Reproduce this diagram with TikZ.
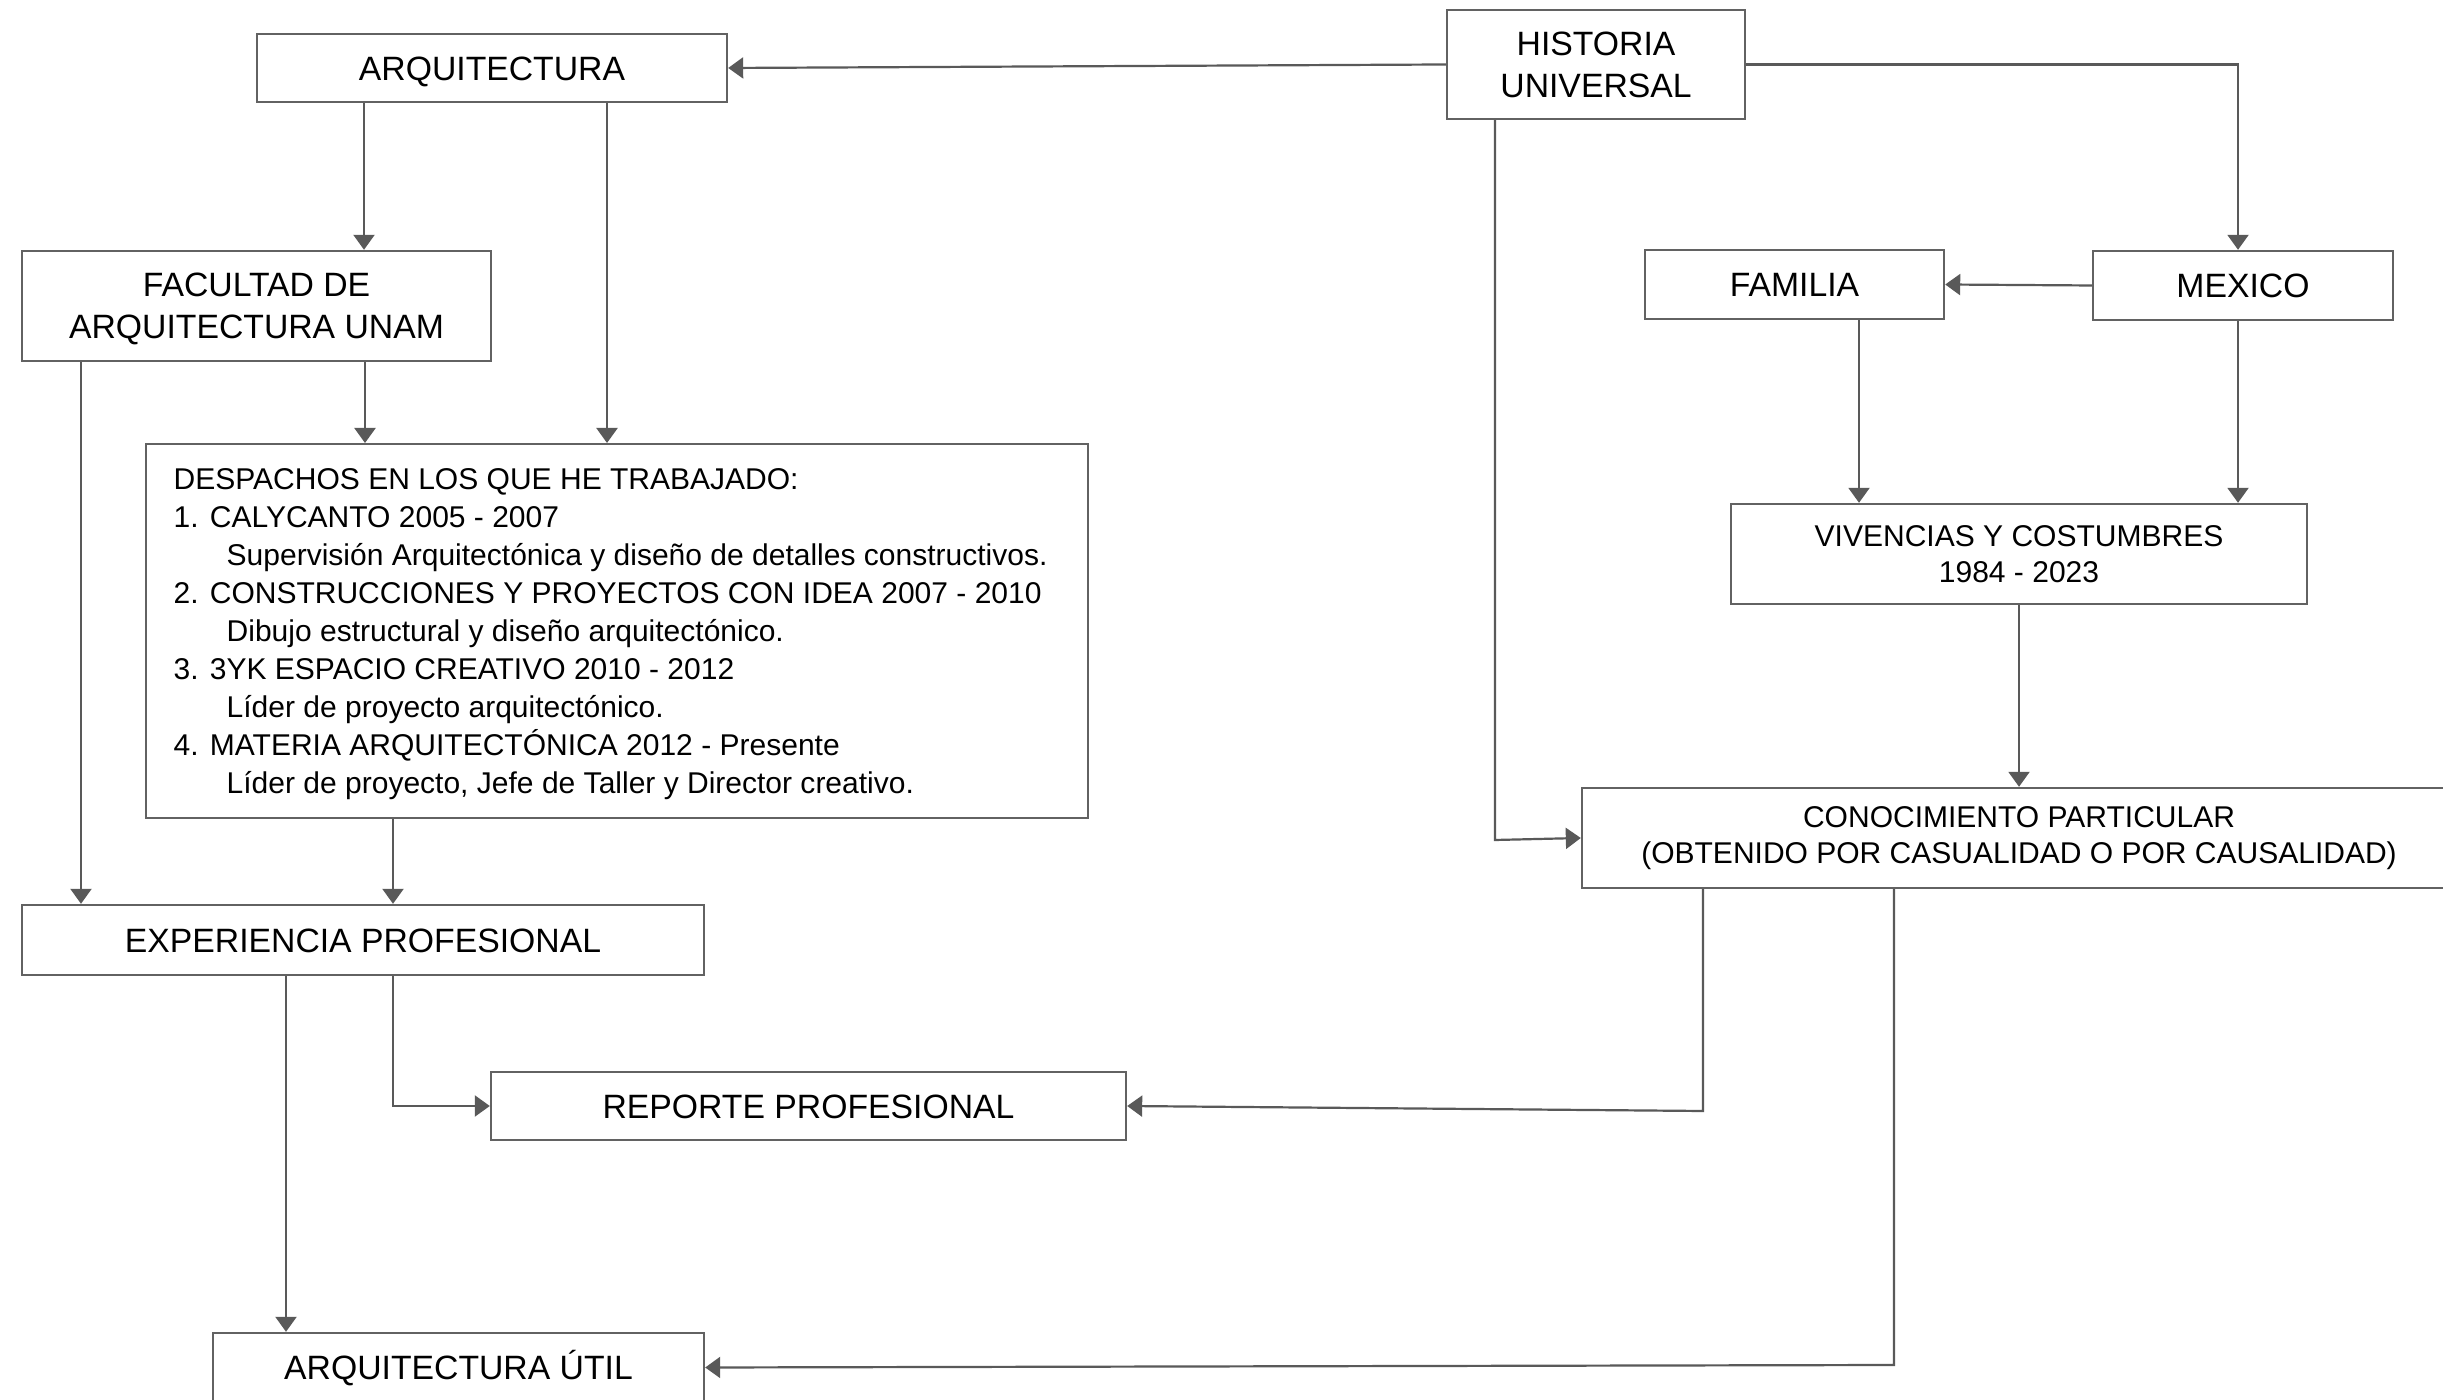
\documentclass[tikz,border=0pt]{standalone}
\usepackage{fontspec}
\setmainfont{Liberation Sans}
\usetikzlibrary{arrows.meta}
\definecolor{linegray}{HTML}{595959}
\definecolor{boxgray}{HTML}{626262}
\begin{document}
\begin{tikzpicture}[x=0.1mm, y=-0.1mm,
  box/.style={draw=boxgray, line width=0.24mm, rectangle, inner sep=0pt, align=center, text=black},
  bigtxt/.style={font=\fontsize{9.6pt}{12pt}\selectfont},
  smalltxt/.style={font=\fontsize{8.54pt}{10.4pt}\selectfont},
  single/.style={text height=7pt, text depth=0pt},
  ltext/.style={smalltxt, anchor=base west, inner sep=0pt, text=black},
  arr/.style={draw=linegray, line width=0.22mm, -{Triangle[length=1.5mm,width=2.1mm]}}
]
\useasboundingbox (0,0) rectangle (2443,1400);
\clip (0,0) rectangle (2443,1400);
\fill[white] (0,0) rectangle (2443,1400);

% nodes
\node[box,bigtxt,single, minimum width=47mm, minimum height=6.8mm] (arq) at (492,68) {ARQUITECTURA};
\node[box,bigtxt, minimum width=29.8mm, minimum height=10.9mm] (hist) at (1596,64.5) {HISTORIA\\UNIVERSAL};
\node[box,bigtxt, text depth=0pt, minimum width=46.9mm, minimum height=11mm] (fac) at (256.5,306) {FACULTAD DE\\ARQUITECTURA UNAM};
\node[box,bigtxt,single, minimum width=29.9mm, minimum height=6.9mm] (fam) at (1794.5,284.5) {FAMILIA};
\node[box,bigtxt,single, minimum width=30mm, minimum height=6.9mm] (mex) at (2243,285.5) {MEXICO};
\node[box,smalltxt, minimum width=57.6mm, minimum height=10mm] (viv) at (2019,554) {VIVENCIAS Y COSTUMBRES\\1984 - 2023};
\node[box, minimum width=94.2mm, minimum height=37.4mm, anchor=north west] (desp) at (145,443) {};
\node[box,smalltxt, minimum width=87.4mm, minimum height=10mm] (con) at (2019,838) {CONOCIMIENTO PARTICULAR\\(OBTENIDO POR CASUALIDAD O POR CAUSALIDAD)};
\node[box,bigtxt,single, minimum width=68.2mm, minimum height=7mm] (exp) at (363,940) {EXPERIENCIA PROFESIONAL};
\node[box,bigtxt,single, minimum width=63.5mm, minimum height=6.8mm] (rep) at (808.5,1106) {REPORTE PROFESIONAL};
\node[box,bigtxt,single, minimum width=49.1mm, minimum height=6.9mm] (util) at (458.5,1367.5) {ARQUITECTURA ÚTIL};

% despachos text
\node[ltext] (d0) at (173,490.0) {DESPACHOS EN LOS QUE HE TRABAJADO:};
\node[ltext] (d1) at (173,527.9) {1. CALYCANTO 2005 - 2007};
\node[ltext] (d2) at (226,565.8) {Supervisión Arquitectónica y diseño de detalles constructivos.};
\node[ltext] (d3) at (173,603.7) {2. CONSTRUCCIONES Y PROYECTOS CON IDEA 2007 - 2010};
\node[ltext] (d4) at (226,641.6) {Dibujo estructural y diseño arquitectónico.};
\node[ltext] (d5) at (173,679.5) {3. 3YK ESPACIO CREATIVO 2010 - 2012};
\node[ltext] (d6) at (226,717.4) {Líder de proyecto arquitectónico.};
\node[ltext] (d7) at (173,755.3) {4. MATERIA ARQUITECTÓNICA 2012 - Presente};
\node[ltext] (d8) at (226,793.2) {Líder de proyecto, Jefe de Taller y Director creativo.};

% connectors
\draw[arr] (hist.west) -- (arq.east);
\draw[arr] (hist.east) -| (mex.north -| 2238,0);
\draw[arr] (mex.west) -- (fam.east);
\draw[arr] (fam.south -| 1859,0) -- (viv.north -| 1859,0);
\draw[arr] (mex.south -| 2238,0) -- (viv.north -| 2238,0);
\draw[arr] (viv.south) -- (con.north);
\coordinate (hbend) at (1495,840);
\draw[arr] (hist.south -| hbend) -- (hbend) -- (con.west);
\draw[arr] (arq.south -| 364,0) -- (fac.north -| 364,0);
\draw[arr] (arq.south -| 607,0) -- (desp.north -| 607,0);
\draw[arr] (fac.south -| 365,0) -- (desp.north -| 365,0);
\draw[arr] (fac.south -| 81,0) -- (exp.north -| 81,0);
\draw[arr] (desp.south -| 393,0) -- (exp.north -| 393,0);
\draw[arr] (exp.south -| 393,0) |- (rep.west);
\draw[arr] (exp.south -| 286,0) -- (util.north -| 286,0);
\coordinate (rbend) at (1703,1111);
\draw[arr] (con.south -| rbend) -- (rbend) -- (rep.east);
\coordinate (ubend) at (1894,1365);
\draw[arr] (con.south -| ubend) -- (ubend) -- (util.east);
\end{tikzpicture}
\end{document}
